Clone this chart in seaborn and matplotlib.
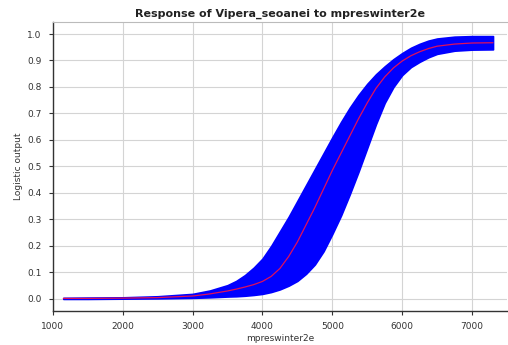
import matplotlib
matplotlib.use("Agg")
import matplotlib.pyplot as plt
import seaborn as sns
import pandas as pd

# Response curve of Vipera seoanei to winter precipitation (mean and +/- spread)
precip = [1150, 1500, 2000, 2500, 3000, 3250,
          3500, 3625, 3750, 3875, 4000, 4125, 4250, 4375, 4500, 4625, 4750,
          4875, 5000, 5125, 5250, 5375, 5500, 5625, 5750, 5875, 6000, 6125,
          6250, 6375, 6500,
          6750, 7000, 7300]
mean_output = [0.002, 0.002, 0.003, 0.005, 0.011, 0.019,
               0.030, 0.037, 0.045, 0.054, 0.066, 0.085, 0.115, 0.160, 0.215,
               0.280, 0.345, 0.415, 0.485, 0.550, 0.615, 0.680, 0.740, 0.795,
               0.838, 0.872, 0.898, 0.918, 0.933, 0.945, 0.954,
               0.962, 0.966, 0.967]
upper_output = [0.004, 0.005, 0.006, 0.010, 0.019, 0.032,
                0.052, 0.068, 0.090, 0.118, 0.152, 0.200, 0.255, 0.310, 0.370,
                0.430, 0.490, 0.550, 0.610, 0.668, 0.722, 0.770, 0.812, 0.848,
                0.878, 0.905, 0.928, 0.948, 0.963, 0.975, 0.983,
                0.990, 0.992, 0.992]
lower_output = [0.000, 0.000, 0.001, 0.002, 0.004, 0.006,
                0.009, 0.010, 0.012, 0.015, 0.019, 0.026, 0.036, 0.050, 0.068,
                0.095, 0.130, 0.180, 0.245, 0.315, 0.395, 0.480, 0.570, 0.660,
                0.740, 0.800, 0.845, 0.875, 0.895, 0.912, 0.925,
                0.937, 0.941, 0.942]

x_ticks = [1000, 2000, 3000, 4000, 5000, 6000, 7000]
y_ticks = [0.0, 0.1, 0.2, 0.3, 0.4, 0.5, 0.6, 0.7, 0.8, 0.9, 1.0]

df = pd.DataFrame({"mpreswinter2e": precip, "Logistic output": mean_output})

sns.set_theme(style="white")
plt.rcParams["font.family"] = ["DejaVu Sans"]

fig = plt.figure(figsize=(5.08, 3.45), dpi=100)
ax = fig.add_axes([0.104, 0.099, 0.894, 0.837])

ax.fill_between(precip, lower_output, upper_output, color="#0000ff",
                edgecolor="#0000ff", linewidth=1.2, zorder=2)
sns.lineplot(data=df, x="mpreswinter2e", y="Logistic output", ax=ax,
             color="#e0105a", linewidth=0.9, zorder=3)

ax.set_xlim(1000, 7500)
ax.set_ylim(-0.045, 1.045)
ax.set_xticks(x_ticks)
ax.set_yticks(y_ticks)
ax.set_xticklabels([str(t) for t in x_ticks], fontsize=6.5, color="#333333")
ax.set_yticklabels([f"{t:.1f}" for t in y_ticks], fontsize=6.5, color="#333333")

ax.grid(True, color="#d4d4d4", linewidth=0.8, zorder=0)
ax.set_axisbelow(True)

ax.tick_params(axis="both", which="major", length=3, width=0.8,
               direction="out", color="#333333", pad=5,
               bottom=True, left=True)

for side in ["left", "bottom"]:
    ax.spines[side].set_color("#333333")
    ax.spines[side].set_linewidth(1.0)
ax.spines["top"].set_color("#bbbbbb")
ax.spines["top"].set_linewidth(0.8)
ax.spines["right"].set_visible(False)

ax.set_xlabel("mpreswinter2e", fontsize=6.5, color="#333333", labelpad=2)
ax.set_ylabel("Logistic output", fontsize=6.5, color="#333333", labelpad=3)
ax.set_title("Response of Vipera_seoanei to mpreswinter2e", fontsize=8,
             fontweight="bold", color="#222222", pad=4)

fig.savefig("out.png", dpi=100)
